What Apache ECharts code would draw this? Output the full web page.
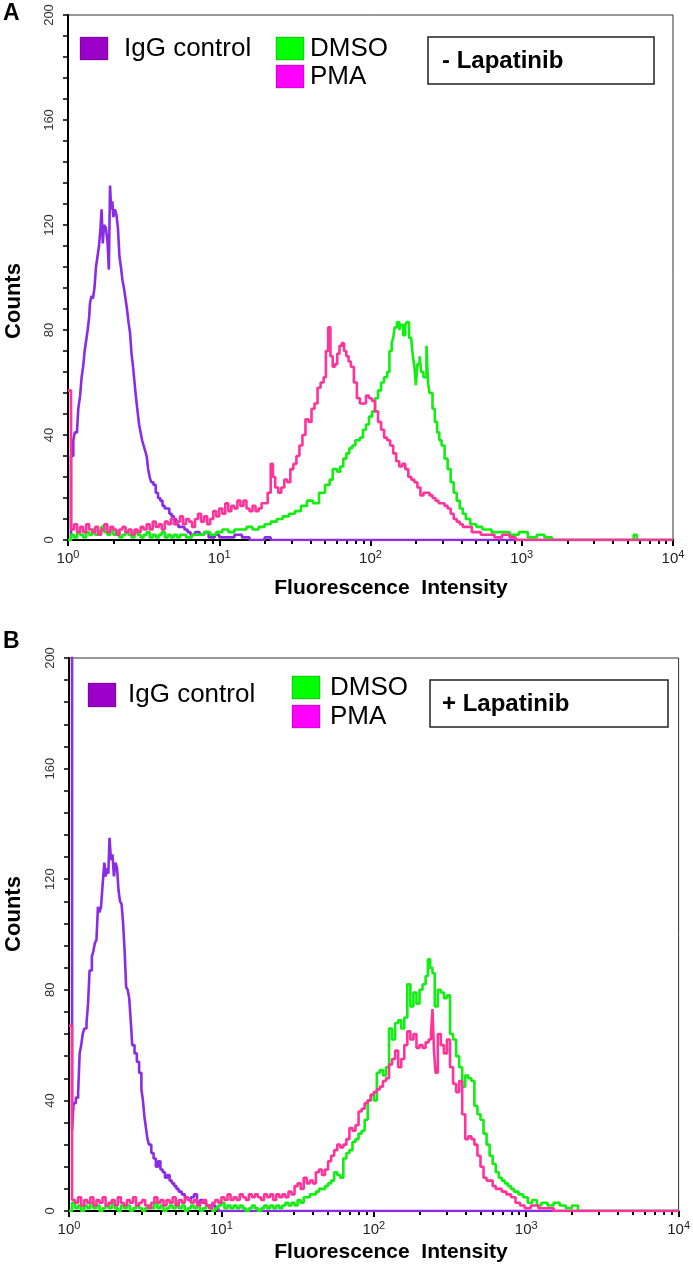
<!DOCTYPE html>
<html>
<head>
<meta charset="utf-8">
<script src="https://cdn.jsdelivr.net/npm/echarts@6/dist/echarts.min.js"></script>
<style>html,body{margin:0;padding:0;background:#fff}#c{width:693px;height:1270px}</style>
</head>
<body>
<div id="c"></div>
<script>
// x positions are in decades: log10(fluorescence intensity), 0 = 10^0 ... 4 = 10^4
const xTickExponents = [0, 1, 2, 3, 4];
const yTicks = [0, 40, 80, 120, 160, 200];
const seriesNames = ['IgG control', 'DMSO', 'PMA'];

// Panel A (- Lapatinib)
const iggA = [[0,0],[0.02,32],[0.035,38],[0.045,41],[0.06,42],[0.068,50],[0.08,55],[0.09,62],[0.1,66],[0.11,72],[0.12,76],[0.13,80],[0.14,85],[0.145,90],[0.155,93],[0.165,92],[0.175,96],[0.185,104],[0.195,108],[0.205,112],[0.215,119],[0.222,126],[0.23,113],[0.238,120],[0.25,119],[0.262,113],[0.27,103],[0.278,135],[0.285,126],[0.293,129],[0.3,123],[0.31,126],[0.32,124],[0.33,119],[0.34,108],[0.35,104],[0.36,99],[0.37,96],[0.38,92],[0.39,88],[0.4,83],[0.41,79],[0.42,71],[0.43,66],[0.44,60],[0.45,54],[0.46,49],[0.47,44],[0.48,41],[0.49,38],[0.5,36],[0.51,34],[0.52,32],[0.53,27],[0.54,24],[0.55,22],[0.565,21],[0.58,18],[0.595,16],[0.61,15],[0.625,13],[0.64,12],[0.655,12],[0.67,10],[0.685,9],[0.7,8],[0.715,6],[0.73,5],[0.75,5],[0.77,4],[0.79,3],[0.81,2],[0.84,3],[0.87,2],[0.9,3],[0.93,1],[0.97,2],[1.0,1],[1.05,1],[1.1,2],[1.15,1],[1.2,0],[1.3,1],[1.34,0],[4,0]];
const dmsoA = [[0,0],[0.02,2],[0.04,1],[0.06,3],[0.08,2],[0.1,1],[0.12,3],[0.14,2],[0.16,4],[0.18,2],[0.2,3],[0.22,5],[0.24,3],[0.26,2],[0.28,4],[0.3,2],[0.32,3],[0.34,1],[0.36,2],[0.38,3],[0.4,2],[0.42,1],[0.44,3],[0.46,2],[0.48,1],[0.5,2],[0.52,3],[0.54,1],[0.56,2],[0.58,1],[0.6,2],[0.62,3],[0.64,1],[0.66,2],[0.68,1],[0.7,2],[0.72,1],[0.74,2],[0.78,1],[0.82,2],[0.86,2],[0.9,3],[0.94,2],[0.98,3],[1.02,4],[1.06,3],[1.1,4],[1.14,4],[1.18,5],[1.22,4],[1.26,5],[1.3,6],[1.34,7],[1.38,8],[1.42,9],[1.46,10],[1.5,11],[1.54,13],[1.58,15],[1.62,14],[1.66,18],[1.7,21],[1.73,23],[1.75,27],[1.78,26],[1.8,28],[1.82,31],[1.84,33],[1.86,35],[1.88,36],[1.9,38],[1.93,39],[1.95,42],[1.97,44],[1.99,47],[2.01,49],[2.03,54],[2.05,57],[2.07,60],[2.09,62],[2.11,64],[2.125,72],[2.14,75],[2.15,77],[2.16,81],[2.175,83],[2.19,80],[2.2,82],[2.215,78],[2.23,82],[2.24,83],[2.255,77],[2.27,76],[2.28,70],[2.29,66],[2.3,59],[2.31,67],[2.325,70],[2.335,64],[2.35,62],[2.37,74],[2.38,60],[2.39,56],[2.41,50],[2.425,45],[2.44,41],[2.455,38],[2.47,36],[2.49,31],[2.51,27],[2.53,22],[2.55,18],[2.57,15],[2.59,12],[2.61,10],[2.63,8],[2.66,6],[2.7,5],[2.74,4],[2.8,3],[2.86,3],[2.92,2],[2.98,3],[3.04,1],[3.1,2],[3.15,1],[3.2,0],[3.74,2],[3.76,0],[4,0]];
const pmaA = [[0,57],[0.02,4],[0.04,6],[0.06,3],[0.08,5],[0.1,3],[0.12,6],[0.14,4],[0.16,3],[0.18,5],[0.2,2],[0.22,4],[0.24,6],[0.26,3],[0.28,5],[0.3,4],[0.32,2],[0.34,4],[0.36,5],[0.38,3],[0.4,4],[0.42,2],[0.44,4],[0.46,3],[0.48,5],[0.5,4],[0.52,6],[0.54,4],[0.56,7],[0.58,5],[0.6,6],[0.62,4],[0.64,7],[0.66,6],[0.68,8],[0.7,6],[0.72,7],[0.74,9],[0.76,6],[0.78,8],[0.8,7],[0.82,5],[0.84,8],[0.86,10],[0.88,7],[0.9,9],[0.92,6],[0.94,8],[0.96,11],[0.98,9],[1.0,12],[1.02,10],[1.04,14],[1.06,11],[1.08,13],[1.1,12],[1.12,15],[1.14,13],[1.16,15],[1.18,12],[1.2,11],[1.22,13],[1.24,11],[1.26,12],[1.28,14],[1.3,14],[1.32,18],[1.34,29],[1.355,24],[1.37,20],[1.39,18],[1.41,20],[1.43,23],[1.45,22],[1.47,27],[1.49,29],[1.51,32],[1.53,36],[1.55,40],[1.57,46],[1.59,45],[1.61,50],[1.63,52],[1.65,58],[1.67,60],[1.69,62],[1.705,72],[1.72,81],[1.735,70],[1.75,66],[1.765,67],[1.78,71],[1.795,74],[1.81,75],[1.825,72],[1.84,70],[1.855,68],[1.87,66],[1.89,60],[1.91,54],[1.93,52],[1.95,52],[1.97,55],[1.99,54],[2.01,53],[2.03,49],[2.05,45],[2.07,42],[2.09,39],[2.11,38],[2.13,36],[2.15,33],[2.17,30],[2.19,28],[2.21,29],[2.23,27],[2.25,24],[2.27,23],[2.29,22],[2.31,20],[2.33,17],[2.35,18],[2.37,18],[2.39,17],[2.41,16],[2.43,15],[2.45,14],[2.47,14],[2.49,13],[2.51,12],[2.53,10],[2.55,8],[2.57,7],[2.59,6],[2.61,5],[2.64,5],[2.67,3],[2.7,3],[2.73,2],[2.77,2],[2.82,1],[2.87,2],[2.92,1],[2.96,0],[4,0]];

// Panel B (+ Lapatinib)
const iggB = [[0,250],[0.02,29],[0.03,39],[0.045,41],[0.06,43],[0.07,57],[0.08,60],[0.09,64],[0.1,66],[0.115,68],[0.125,75],[0.135,87],[0.15,92],[0.16,94],[0.17,97],[0.18,98],[0.19,110],[0.2,108],[0.21,110],[0.222,119],[0.232,126],[0.24,121],[0.25,124],[0.258,122],[0.266,135],[0.275,127],[0.285,129],[0.295,121],[0.305,126],[0.315,124],[0.325,116],[0.335,112],[0.345,111],[0.355,104],[0.365,94],[0.375,81],[0.385,80],[0.395,77],[0.405,69],[0.415,60],[0.43,57],[0.445,54],[0.46,50],[0.475,44],[0.485,40],[0.495,34],[0.505,30],[0.515,26],[0.525,24],[0.54,21],[0.555,19],[0.57,16],[0.585,18],[0.6,15],[0.615,14],[0.63,12],[0.645,13],[0.66,11],[0.675,10],[0.69,9],[0.705,8],[0.72,7],[0.74,6],[0.76,5],[0.78,4],[0.8,5],[0.82,6],[0.84,3],[0.86,4],[0.88,3],[0.9,2],[0.93,2],[0.96,1],[0.98,0],[4,0]];
const dmsoB = [[0,0],[0.02,3],[0.04,1],[0.06,2],[0.08,0],[0.1,2],[0.12,1],[0.14,3],[0.16,1],[0.18,2],[0.2,0],[0.22,1],[0.24,2],[0.26,1],[0.28,3],[0.3,1],[0.32,0],[0.34,2],[0.36,1],[0.38,2],[0.4,0],[0.42,1],[0.44,2],[0.46,1],[0.48,0],[0.5,1],[0.52,2],[0.54,1],[0.56,3],[0.58,1],[0.6,2],[0.62,0],[0.64,1],[0.66,2],[0.68,1],[0.7,3],[0.72,1],[0.74,2],[0.76,0],[0.78,1],[0.8,2],[0.82,1],[0.84,2],[0.86,0],[0.88,1],[0.9,2],[0.92,1],[0.94,0],[0.96,1],[0.98,2],[1.0,3],[1.02,1],[1.04,2],[1.06,1],[1.08,2],[1.1,1],[1.12,2],[1.14,1],[1.16,0],[1.18,1],[1.2,2],[1.22,1],[1.24,0],[1.26,1],[1.28,2],[1.3,1],[1.32,2],[1.34,1],[1.36,2],[1.38,1],[1.4,2],[1.42,3],[1.44,2],[1.46,3],[1.48,2],[1.5,4],[1.52,3],[1.54,5],[1.56,5],[1.58,6],[1.6,6],[1.62,7],[1.64,8],[1.66,8],[1.68,9],[1.7,10],[1.72,11],[1.74,14],[1.76,13],[1.78,12],[1.8,19],[1.82,21],[1.84,22],[1.86,25],[1.88,26],[1.9,28],[1.92,29],[1.94,33],[1.96,40],[1.98,42],[2.0,40],[2.02,50],[2.04,51],[2.06,49],[2.08,52],[2.1,66],[2.12,62],[2.14,68],[2.16,69],[2.18,66],[2.2,70],[2.22,82],[2.24,74],[2.26,79],[2.28,75],[2.3,80],[2.32,82],[2.34,85],[2.355,91],[2.37,88],[2.385,86],[2.4,74],[2.42,80],[2.44,79],[2.46,77],[2.48,78],[2.5,64],[2.52,62],[2.54,56],[2.56,52],[2.58,45],[2.6,49],[2.62,48],[2.64,47],[2.66,38],[2.68,35],[2.7,33],[2.72,28],[2.74,24],[2.76,20],[2.78,17],[2.8,14],[2.82,12],[2.84,11],[2.86,10],[2.88,9],[2.9,8],[2.92,7],[2.95,6],[2.98,5],[3.01,3],[3.04,4],[3.07,2],[3.1,3],[3.14,2],[3.18,3],[3.22,2],[3.26,1],[3.3,2],[3.34,0],[4,0]];
const pmaB = [[0,67],[0.02,4],[0.04,3],[0.06,5],[0.08,2],[0.1,4],[0.12,3],[0.14,5],[0.16,2],[0.18,4],[0.2,3],[0.22,5],[0.24,2],[0.26,3],[0.28,4],[0.3,2],[0.32,5],[0.34,3],[0.36,2],[0.38,4],[0.4,3],[0.42,5],[0.44,2],[0.46,3],[0.48,4],[0.5,2],[0.52,1],[0.54,3],[0.56,5],[0.58,3],[0.6,4],[0.62,2],[0.64,4],[0.66,3],[0.68,5],[0.7,2],[0.72,4],[0.74,3],[0.76,5],[0.78,4],[0.8,3],[0.82,4],[0.84,2],[0.86,3],[0.88,4],[0.9,2],[0.92,1],[0.94,3],[0.96,4],[0.98,3],[1.0,5],[1.02,4],[1.04,6],[1.06,4],[1.08,5],[1.1,4],[1.12,6],[1.14,5],[1.16,4],[1.18,6],[1.2,5],[1.22,6],[1.24,5],[1.26,4],[1.28,6],[1.3,5],[1.32,6],[1.34,4],[1.36,6],[1.38,5],[1.4,6],[1.42,5],[1.44,7],[1.46,6],[1.48,9],[1.5,10],[1.52,8],[1.54,12],[1.56,10],[1.58,11],[1.6,10],[1.62,14],[1.64,15],[1.66,13],[1.68,15],[1.7,18],[1.72,20],[1.74,22],[1.76,24],[1.78,23],[1.8,24],[1.82,26],[1.84,30],[1.86,29],[1.88,31],[1.9,36],[1.92,37],[1.94,39],[1.96,40],[1.98,42],[2.0,43],[2.02,44],[2.04,45],[2.06,47],[2.08,48],[2.1,53],[2.12,55],[2.14,58],[2.16,52],[2.18,55],[2.2,60],[2.22,65],[2.24,62],[2.26,64],[2.28,59],[2.3,60],[2.32,59],[2.34,61],[2.36,62],[2.375,64],[2.385,73],[2.395,58],[2.405,50],[2.42,64],[2.44,60],[2.46,57],[2.48,62],[2.5,52],[2.52,46],[2.54,43],[2.56,47],[2.58,35],[2.6,26],[2.62,27],[2.64,26],[2.66,24],[2.68,20],[2.7,16],[2.72,12],[2.74,11],[2.76,11],[2.78,9],[2.8,8],[2.82,8],[2.84,7],[2.87,6],[2.9,5],[2.93,3],[2.96,2],[2.99,1],[3.03,2],[3.08,1],[3.14,1],[3.18,0],[4,0]];

const FONT = '"Liberation Sans", Arial, Helvetica, sans-serif';
const lineColors = ['#8a2be6', '#11ee11', '#ff3399'];
const swatchColors = ['#9a00c8', '#00ff00', '#ff00ff'];

// minor log ticks (2..9 in each decade)
const minorTicks = [];
for (let n = 0; n < 4; n++) for (let k = 2; k <= 9; k++) minorTicks.push(n + Math.log10(k));

const grids = [
  {left: 68, top: 15, width: 605, height: 525},
  {left: 69, top: 658, width: 614, height: 553}
];

function majorX(gi) {
  return {
    type: 'value', gridIndex: gi, min: 0, max: 4, interval: 1, position: 'bottom',
    axisLine: {show: true, onZero: false, lineStyle: {color: '#000', width: 2}},
    axisTick: {show: true, length: 6, lineStyle: {color: '#000', width: 2}},
    splitLine: {show: false},
    axisLabel: {
      margin: 9, color: '#222',
      formatter: v => '{b|10}{s|' + xTickExponents[Math.round(v)] + '}',
      rich: {
        b: {fontFamily: FONT, fontSize: 15, color: '#222'},
        s: {fontFamily: FONT, fontSize: 11, color: '#222', padding: [0, 0, 8, 0]}
      }
    }
  };
}
function minorX(gi) {
  return {
    type: 'value', gridIndex: gi, min: 0, max: 4, position: 'bottom',
    axisLine: {show: false},
    axisTick: {show: true, length: 4, customValues: minorTicks, lineStyle: {color: '#000', width: 2}},
    axisLabel: {show: false}, splitLine: {show: false}
  };
}
function yAx(gi) {
  return {
    type: 'value', gridIndex: gi, min: 0, max: 200, interval: 40,
    axisLine: {show: true, onZero: false, lineStyle: {color: '#000', width: 2}},
    axisTick: {show: true, length: 5, lineStyle: {color: '#000', width: 1.5}},
    minorTick: {show: true, splitNumber: 5, length: 5, lineStyle: {color: '#000', width: 1.5}},
    splitLine: {show: false},
    axisLabel: {
      rotate: 90, margin: 12, color: '#333', fontFamily: FONT, fontSize: 13,
      formatter: v => String(yTicks[Math.round(v / 40)])
    }
  };
}

function mkSeries(name, data, ci, xi, yi) {
  return {
    name: name, type: 'line', step: 'end', data: data, xAxisIndex: xi, yAxisIndex: yi,
    showSymbol: false, symbol: 'none', animation: false, clip: true,
    lineStyle: {color: lineColors[ci], width: 2.6}
  };
}

const series = [
  mkSeries(seriesNames[0], iggA, 0, 0, 0),
  mkSeries(seriesNames[1], dmsoA, 1, 0, 0),
  mkSeries(seriesNames[2], pmaA, 2, 0, 0),
  mkSeries(seriesNames[0], iggB, 0, 2, 1),
  mkSeries(seriesNames[1], dmsoB, 1, 2, 1),
  mkSeries(seriesNames[2], pmaB, 2, 2, 1)
];

function txt(x, y, s, size, bold, opts) {
  return Object.assign({
    type: 'text', x: x, y: y, z: 10,
    style: {text: s, fontFamily: FONT, fontSize: size, fontWeight: bold ? 'bold' : 'normal',
      fill: '#000', textAlign: 'left', textVerticalAlign: 'middle'}
  }, opts || {});
}
function rect(x, y, w, h, fill) {
  return {type: 'rect', z: 10, shape: {x: x, y: y, width: w, height: h},
    style: {fill: fill, stroke: 'rgba(0,0,0,0.25)', lineWidth: 1}};
}
function box(x, y, w, h) {
  return {type: 'rect', z: 10, shape: {x: x, y: y, width: w, height: h},
    style: {fill: '#fff', stroke: '#222', lineWidth: 1.5}};
}

const graphic = [
  txt(3, 14, 'A', 23, true),
  txt(3, 642, 'B', 23, true),
  Object.assign(txt(14, 301, 'Counts', 22, true), {rotation: Math.PI / 2}),
  Object.assign(txt(14, 914, 'Counts', 22, true), {rotation: Math.PI / 2}),
  txt(391, 588, 'Fluorescence  Intensity', 21, true),
  txt(391, 1252, 'Fluorescence  Intensity', 21, true),
  // legend A
  rect(80, 37, 28, 23, swatchColors[0]),
  txt(124, 49, 'IgG control', 26, false),
  rect(276, 37, 28, 23, swatchColors[1]),
  txt(310, 49, 'DMSO', 26, false),
  rect(276, 65, 28, 23, swatchColors[2]),
  txt(310, 77, 'PMA', 26, false),
  box(428, 37, 226, 47),
  txt(442, 61, '- Lapatinib', 24, true),
  // legend B
  rect(88, 683, 28, 24, swatchColors[0]),
  txt(128, 695, 'IgG control', 26, false),
  rect(292, 676, 28, 23, swatchColors[1]),
  txt(330, 688, 'DMSO', 26, false),
  rect(292, 705, 28, 23, swatchColors[2]),
  txt(330, 717, 'PMA', 26, false),
  box(430, 680, 238, 47),
  txt(442, 704, '+ Lapatinib', 24, true)
];
graphic[4].style.textAlign = 'center';
graphic[5].style.textAlign = 'center';
graphic[2].style.textAlign = 'center';
graphic[3].style.textAlign = 'center';

const chart = echarts.init(document.getElementById('c'), null, {renderer: 'canvas'});
chart.setOption({
  backgroundColor: '#fff',
  animation: false,
  grid: grids.map(g => Object.assign({show: true, borderColor: '#333', borderWidth: 1, backgroundColor: 'transparent', containLabel: false}, g)),
  xAxis: [majorX(0), minorX(0), majorX(1), minorX(1)],
  yAxis: [yAx(0), yAx(1)],
  series: series,
  graphic: graphic
});
</script>
</body>
</html>
